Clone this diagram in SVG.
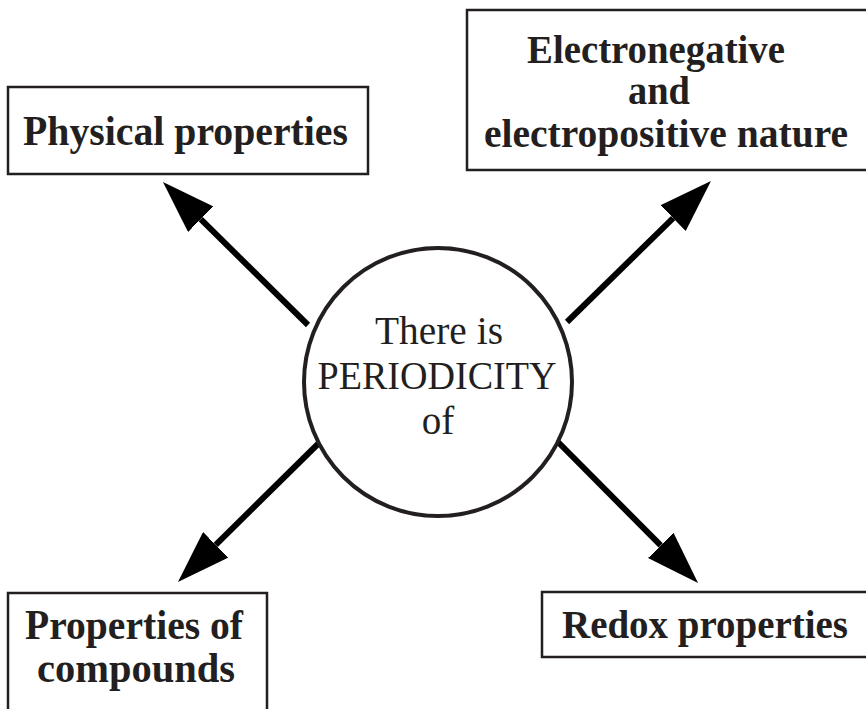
<svg xmlns="http://www.w3.org/2000/svg" width="866" height="709" viewBox="0 0 866 709">
<style>
.box{fill:#fff;stroke:#231f20;stroke-width:2.5}
.lbl{font-family:"Liberation Serif","DejaVu Serif",serif;font-weight:bold;font-size:42px;fill:#231f20;text-anchor:middle}
.sm{font-size:39px}
.ctr{font-family:"Liberation Serif","DejaVu Serif",serif;font-size:39px;fill:#231f20;text-anchor:middle}
.arr{stroke:#000;stroke-width:6;fill:none;marker-end:url(#head)}
</style>
<defs>
<marker id="head" viewBox="0 -18 53 36" markerWidth="53" markerHeight="36" refX="0" refY="0" orient="auto" markerUnits="userSpaceOnUse">
<path d="M0,-18 L53,0 L0,18 z" fill="#000"/>
</marker>
</defs>
<rect width="866" height="709" fill="#fff"/>
<g id="connectors">
<line class="arr" x1="308" y1="325" x2="200.7" y2="219.2"/>
<line class="arr" x1="567" y1="322" x2="673.1" y2="218.1"/>
<line class="arr" x1="322" y1="440" x2="215.7" y2="544.8"/>
<line class="arr" x1="558" y1="442" x2="660.7" y2="545.4"/>
</g>
<g id="center">
<circle cx="438" cy="382" r="134" fill="#fff" stroke="#231f20" stroke-width="4"/>
<text class="ctr" x="439" y="344" textLength="128" lengthAdjust="spacingAndGlyphs">There is</text>
<text class="ctr" x="437" y="389" textLength="239" lengthAdjust="spacingAndGlyphs">PERIODICITY</text>
<text class="ctr" x="438" y="434">of</text>
</g>
<g id="physical">
<rect class="box" x="8" y="87" width="360" height="87"/>
<text class="lbl" x="185.5" y="145" textLength="325" lengthAdjust="spacingAndGlyphs">Physical properties</text>
</g>
<g id="electro">
<path class="box" d="M866,10 H467 V170 H866"/>
<text class="lbl sm" x="656" y="63" textLength="258" lengthAdjust="spacingAndGlyphs">Electronegative</text>
<text class="lbl sm" x="659" y="104" textLength="62" lengthAdjust="spacingAndGlyphs">and</text>
<text class="lbl sm" x="666" y="147" textLength="364" lengthAdjust="spacingAndGlyphs">electropositive nature</text>
</g>
<g id="compounds">
<path class="box" d="M8,709 V593 H267 V709"/>
<text class="lbl" x="134" y="639" textLength="218" lengthAdjust="spacingAndGlyphs">Properties of</text>
<text class="lbl" x="136" y="682" textLength="198" lengthAdjust="spacingAndGlyphs">compounds</text>
</g>
<g id="redox">
<path class="box" d="M866,592 H542 V657 H866"/>
<text class="lbl sm" x="705" y="638" textLength="286" lengthAdjust="spacingAndGlyphs">Redox properties</text>
</g>
</svg>
